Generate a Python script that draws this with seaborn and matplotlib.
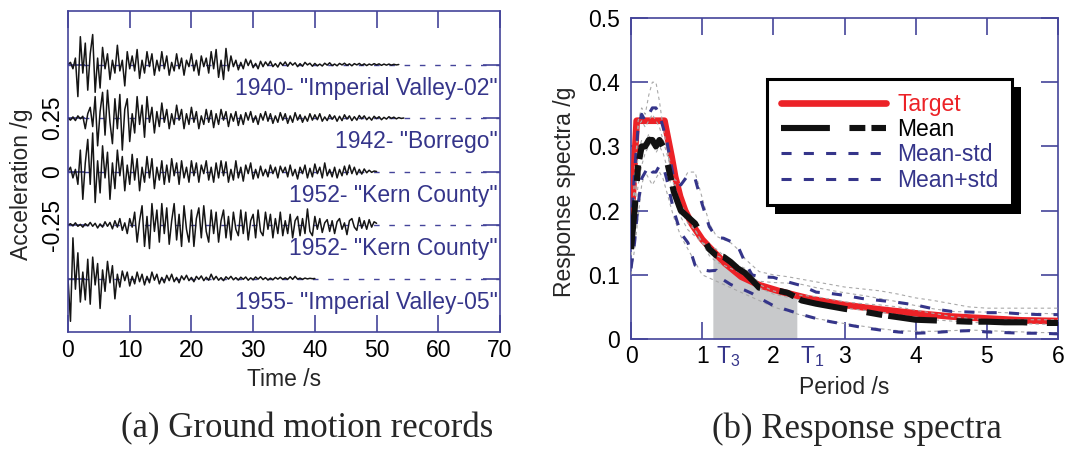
import numpy as np
import matplotlib
matplotlib.use("Agg")
import matplotlib.pyplot as plt
import seaborn as sns
from matplotlib import patheffects
from matplotlib.transforms import blended_transform_factory

# ---------------- data: ground motion records (g), sampled every dt seconds ----------------
dt = 0.4
record_names = ['1940- "Imperial Valley-02"', '1942- "Borrego"', '1952- "Kern County"',
                '1952- "Kern County"', '1955- "Imperial Valley-05"']
record_offsets = [0.5, 0.25, 0.0, -0.25, -0.5]

rec_iv02 = [0.0, 0.01, -0.02, 0.03, -0.15, 0.13, -0.04, 0.1, -0.12, 0.05,
            0.14, -0.13, 0.03, -0.11, 0.08, -0.02, 0.05, -0.07, 0.02, -0.04,
            0.09, -0.03, 0.02, -0.1, 0.06, -0.02, 0.04, -0.03, 0.07, -0.065,
            0.02, -0.04, 0.06, -0.01, 0.05, -0.05, 0.02, -0.03, 0.06, -0.02,
            0.04, -0.05, 0.01, -0.03, 0.05, -0.02, 0.03, -0.05, 0.02, -0.01,
            0.05, -0.03, 0.02, -0.05, 0.04, -0.01, 0.03, -0.04, 0.06, -0.02,
            0.07, -0.06, 0.02, -0.07, 0.075, -0.03, 0.04, -0.01, 0.02, -0.025,
            0.01, -0.02, 0.025, -0.005, 0.02, -0.015, 0.005, -0.02, 0.015, -0.01,
            0.012, -0.005, 0.015, -0.01, 0.004, -0.012, 0.01, -0.004, 0.012, -0.008,
            0.01, -0.003, 0.008, -0.01, 0.004, -0.008, 0.01, -0.002, 0.006, -0.008,
            0.005, -0.006, 0.002, -0.007, 0.006, -0.003, 0.008, -0.005, 0.002, -0.006,
            0.005, -0.002, 0.006, -0.004, 0.003, -0.006, 0.004, -0.002, 0.005, -0.004,
            0.003, -0.005, 0.002, -0.003, 0.004, -0.002, 0.003, -0.004, 0.002, -0.003,
            0.002, -0.003, 0.001, -0.002, 0.0]
rec_borrego = [0.0, -0.01, 0.005, -0.012, 0.01, -0.004, 0.008, -0.05, 0.02, 0.05,
               -0.04, 0.1, -0.13, 0.03, 0.12, -0.08, 0.13, -0.02, -0.12, 0.09,
               -0.05, 0.11, -0.15, 0.04, 0.09, -0.11, 0.02, -0.07, 0.1, -0.03,
               0.06, -0.09, 0.1, -0.02, 0.05, -0.07, 0.03, -0.04, 0.07, -0.02,
               0.04, -0.05, 0.02, -0.03, 0.06, -0.01, 0.04, -0.05, 0.02, -0.03,
               0.05, -0.02, 0.03, -0.05, 0.01, -0.03, 0.04, -0.02, 0.035, -0.045,
               0.02, -0.03, 0.04, -0.01, 0.03, -0.04, 0.02, -0.015, 0.03, -0.035,
               0.015, -0.03, 0.025, -0.01, 0.03, -0.02, 0.01, -0.03, 0.02, -0.01,
               0.03, -0.015, 0.02, -0.025, 0.01, -0.02, 0.025, -0.01, 0.02, -0.025,
               0.01, -0.02, 0.025, -0.01, 0.015, -0.02, 0.008, -0.015, 0.02, -0.01,
               0.015, -0.008, 0.02, -0.015, 0.005, -0.012, 0.015, -0.006, 0.01, -0.015,
               0.008, -0.012, 0.015, -0.005, 0.01, -0.012, 0.006, -0.01, 0.012, -0.004,
               0.01, -0.008, 0.004, -0.01, 0.008, -0.003, 0.006, -0.008, 0.003, -0.005,
               0.006, -0.002, 0.004, -0.004, 0.002, -0.002, 0.0]
rec_kern1 = [0.0, 0.02, -0.03, 0.01, -0.06, 0.1, -0.13, 0.04, 0.15, -0.06,
             0.18, -0.145, 0.05, -0.1, 0.12, -0.03, 0.09, -0.13, 0.04, -0.08,
             0.1, -0.02, 0.07, -0.09, 0.03, -0.06, 0.08, -0.04, 0.06, -0.09,
             0.02, -0.05, 0.07, -0.03, 0.06, -0.08, 0.02, -0.04, 0.05, -0.06,
             0.03, -0.05, 0.06, -0.02, 0.04, -0.06, 0.05, -0.03, 0.02, -0.05,
             0.05, -0.02, 0.04, -0.05, 0.03, -0.01, 0.05, -0.04, 0.02, -0.05,
             0.04, -0.03, 0.05, -0.02, 0.045, -0.05, 0.01, -0.04, 0.05, -0.03,
             0.02, -0.045, 0.03, -0.01, 0.04, -0.035, 0.01, -0.03, 0.025, -0.02,
             0.01, -0.025, 0.03, -0.01, 0.02, -0.03, 0.025, -0.005, 0.02, -0.025,
             0.03, -0.02, 0.01, -0.035, 0.02, -0.01, 0.03, -0.03, 0.015, -0.025,
             0.035, -0.01, 0.02, -0.03, 0.04, -0.02, 0.01, -0.025, 0.02, -0.03,
             0.01, -0.02, 0.025, -0.015, 0.03, -0.01, 0.02, -0.015, 0.01, -0.012,
             0.012, -0.006, 0.006, -0.004, 0.002, 0.0]
rec_kern2 = [0.0, 0.006, -0.004, 0.01, -0.006, 0.003, -0.01, 0.006, -0.004, 0.012,
             -0.006, 0.008, -0.014, 0.005, -0.01, 0.015, -0.006, 0.012, -0.018, 0.02,
             -0.01, 0.03, -0.025, 0.01, -0.04, 0.03, -0.01, 0.06, -0.08, 0.02,
             0.09, -0.1, 0.04, -0.11, 0.1, -0.03, 0.07, -0.08, 0.1, -0.04,
             0.08, -0.09, 0.02, 0.1, -0.07, 0.05, -0.1, 0.09, -0.02, -0.08,
             0.07, -0.1, 0.03, 0.08, -0.06, 0.09, -0.03, -0.08, 0.07, -0.04,
             0.06, -0.08, 0.02, 0.07, -0.06, 0.04, -0.07, 0.06, -0.02, -0.05,
             0.07, -0.04, 0.06, -0.07, 0.02, 0.05, -0.06, 0.07, -0.03, -0.05,
             0.06, -0.02, 0.05, -0.06, 0.03, -0.04, 0.06, -0.05, 0.02, -0.04,
             0.05, -0.06, 0.02, 0.04, -0.05, 0.03, -0.04, 0.075, -0.03, -0.05,
             0.04, -0.02, 0.03, -0.035, 0.01, 0.025, -0.03, 0.02, -0.04, 0.015,
             0.03, -0.02, 0.01, -0.045, 0.02, 0.03, -0.01, -0.025, 0.035, -0.015,
             0.02, -0.02, 0.025, -0.01, 0.015, 0.008]
rec_iv05 = [0.0, -0.2, 0.19, -0.05, 0.12, -0.11, 0.03, -0.1, 0.09, -0.12,
            0.1, -0.03, 0.07, -0.14, 0.04, -0.06, 0.08, -0.02, 0.06, -0.095,
            0.02, -0.04, 0.035, -0.01, 0.03, -0.035, 0.01, -0.025, 0.03, -0.015,
            0.02, -0.03, 0.01, -0.02, 0.03, -0.008, 0.02, -0.025, 0.005, -0.02,
            0.015, -0.01, 0.02, -0.015, 0.005, -0.02, 0.012, -0.006, 0.015, -0.01,
            0.005, -0.015, 0.01, -0.004, 0.012, -0.01, 0.006, -0.008, 0.02, -0.006,
            0.01, -0.008, 0.004, -0.01, 0.008, -0.003, 0.01, -0.006, 0.004, -0.007,
            0.006, -0.004, 0.007, -0.008, 0.003, -0.006, 0.007, -0.003, 0.008, -0.005,
            0.004, -0.007, 0.002, -0.006, 0.005, -0.003, 0.006, -0.004, 0.003, -0.004,
            0.008, -0.004, 0.01, -0.003, 0.002, -0.004, 0.002, -0.002, 0.001, -0.001,
            0.0]
records = [rec_iv02, rec_borrego, rec_kern1, rec_kern2, rec_iv05]

time_ticks = [0, 10, 20, 30, 40, 50, 60, 70]
acc_ticks = [-0.5, -0.25, 0.0, 0.25, 0.5]
acc_ticklabels = ["", "-0.25", "0", "0.25", ""]

# ---------------- data: response spectra (g) ----------------
target_T = [0.0, 0.08, 0.47, 0.57, 0.62, 0.69, 0.76, 0.85, 1.0, 1.1, 1.32, 1.55, 1.8, 2.1,
            2.5, 3.0, 3.5, 4.0, 4.5, 5.0, 5.5, 6.0]
target_v = [0.17, 0.34, 0.34, 0.284, 0.253, 0.222, 0.20, 0.18, 0.155, 0.143, 0.118, 0.097,
            0.084, 0.074, 0.063, 0.053, 0.046, 0.040, 0.035, 0.032, 0.029, 0.028]

periods = [0.0, 0.05, 0.1, 0.15, 0.2, 0.25, 0.3, 0.35, 0.4, 0.45, 0.5, 0.6, 0.7, 0.8, 0.9,
           1.0, 1.1, 1.2, 1.3, 1.4, 1.5, 1.6, 1.7, 1.8, 2.0, 2.2, 2.4, 2.6, 2.8, 3.0,
           3.25, 3.5, 3.75, 4.0, 4.25, 4.5, 4.75, 5.0, 5.25, 5.5, 5.75, 6.0]
sa_mean = [0.14, 0.20, 0.27, 0.30, 0.30, 0.31, 0.31, 0.30, 0.31, 0.30, 0.28, 0.23, 0.20, 0.19,
           0.18, 0.16, 0.14, 0.13, 0.128, 0.12, 0.11, 0.103, 0.092, 0.08, 0.077, 0.072, 0.060,
           0.055, 0.051, 0.047, 0.043, 0.038, 0.034, 0.030, 0.029, 0.028, 0.027, 0.027, 0.026,
           0.026, 0.025, 0.025]
sa_plus = [0.17, 0.26, 0.33, 0.35, 0.34, 0.35, 0.36, 0.36, 0.35, 0.33, 0.31, 0.25, 0.24, 0.255,
           0.25, 0.21, 0.175, 0.158, 0.157, 0.152, 0.145, 0.12, 0.10, 0.097, 0.096, 0.089,
           0.083, 0.073, 0.071, 0.068, 0.063, 0.06, 0.057, 0.053, 0.047, 0.043, 0.042, 0.041,
           0.041, 0.039, 0.038, 0.038]
sa_minus = [0.11, 0.15, 0.21, 0.25, 0.26, 0.27, 0.26, 0.26, 0.27, 0.27, 0.25, 0.20, 0.165, 0.15,
            0.115, 0.108, 0.106, 0.107, 0.092, 0.085, 0.08, 0.076, 0.071, 0.064, 0.052, 0.045,
            0.038, 0.032, 0.027, 0.023, 0.018, 0.014, 0.011, 0.009, 0.010, 0.012, 0.013, 0.011,
            0.010, 0.009, 0.009, 0.008]
sa_records = [
    [0.12, 0.22, 0.34, 0.36, 0.35, 0.38, 0.40, 0.40, 0.37, 0.33, 0.30, 0.24, 0.21, 0.19, 0.17,
     0.15, 0.13, 0.12, 0.115, 0.11, 0.105, 0.10, 0.095, 0.09, 0.088, 0.087, 0.085, 0.08, 0.076,
     0.072, 0.068, 0.063, 0.058, 0.052, 0.047, 0.043, 0.042, 0.042, 0.041, 0.040, 0.040, 0.039],
    [0.14, 0.26, 0.33, 0.34, 0.33, 0.34, 0.35, 0.34, 0.33, 0.31, 0.29, 0.25, 0.24, 0.26, 0.26,
     0.22, 0.18, 0.16, 0.155, 0.15, 0.14, 0.125, 0.115, 0.105, 0.10, 0.097, 0.093, 0.089, 0.085,
     0.081, 0.078, 0.075, 0.07, 0.064, 0.06, 0.055, 0.05, 0.048, 0.048, 0.048, 0.048, 0.048],
    [0.10, 0.14, 0.19, 0.24, 0.26, 0.25, 0.24, 0.25, 0.26, 0.25, 0.23, 0.19, 0.16, 0.14, 0.12,
     0.10, 0.095, 0.09, 0.085, 0.08, 0.075, 0.07, 0.065, 0.06, 0.05, 0.043, 0.037, 0.032, 0.028,
     0.024, 0.02, 0.016, 0.013, 0.012, 0.012, 0.013, 0.014, 0.013, 0.012, 0.011, 0.010, 0.010],
    [0.15, 0.20, 0.29, 0.31, 0.30, 0.32, 0.30, 0.31, 0.30, 0.29, 0.27, 0.22, 0.19, 0.17, 0.16,
     0.15, 0.145, 0.14, 0.13, 0.12, 0.11, 0.10, 0.09, 0.08, 0.07, 0.065, 0.06, 0.056, 0.052,
     0.048, 0.045, 0.042, 0.038, 0.034, 0.03, 0.028, 0.026, 0.025, 0.024, 0.024, 0.023, 0.023],
    [0.16, 0.19, 0.24, 0.27, 0.29, 0.30, 0.31, 0.29, 0.30, 0.31, 0.30, 0.25, 0.20, 0.18, 0.17,
     0.15, 0.14, 0.13, 0.125, 0.12, 0.115, 0.11, 0.10, 0.085, 0.075, 0.07, 0.068, 0.066, 0.062,
     0.058, 0.055, 0.053, 0.05, 0.045, 0.04, 0.035, 0.032, 0.03, 0.03, 0.03, 0.03, 0.03],
]
T3, T1 = 1.15, 2.33
period_ticks = [0, 1, 2, 3, 4, 5, 6]
sa_ticks = [0, 0.1, 0.2, 0.3, 0.4, 0.5]
legend_labels = ["Target", "Mean", "Mean-std", "Mean+std"]

# ---------------- style ----------------
sns.set_theme(style="white")
plt.rcParams['font.family'] = ['Liberation Sans', 'DejaVu Sans']
plt.rcParams['mathtext.fontset'] = 'custom'
plt.rcParams['mathtext.rm'] = 'Liberation Sans'
plt.rcParams['axes.unicode_minus'] = False

BLUE = "#44449a"
DKBLUE = "#35358a"
RED = "#ec2227"
FS = 16.5

fig = plt.figure(figsize=(10.69, 4.54), dpi=100)
ax1 = fig.add_axes([68/1069, 1-332/454, 432/1069, 321/454])
ax2 = fig.add_axes([631/1069, 1-339/454, 427/1069, 321/454])

for ax in (ax1, ax2):
    for s in ax.spines.values():
        s.set_color(BLUE)
        s.set_linewidth(1.2)
    ax.tick_params(direction="in", length=12, width=1.2, color=BLUE, labelcolor="black",
                   labelsize=FS, top=True, right=True, bottom=True, left=True)

# ---------------- left panel ----------------
for vals, off, name in zip(records, record_offsets, record_names):
    t = np.arange(len(vals)) * dt
    ax1.axhline(off, color=BLUE, lw=1.0, ls=(0, (4, 7)), zorder=1)
    sns.lineplot(x=t, y=np.asarray(vals) + off, ax=ax1, color="#151515", lw=1.1,
                 estimator=None, sort=False, zorder=2)
    ax1.text(69.6, off - 0.112, name, ha="right", va="center", fontsize=FS, color=DKBLUE,
             zorder=3)

ax1.set_xlim(0, 70)
ax1.set_ylim(-0.75, 0.75)
ax1.set_xticks(time_ticks)
ax1.set_yticks(acc_ticks)
ax1.set_yticklabels(acc_ticklabels, rotation=90, va="center")
ax1.tick_params(axis="y", pad=3)
ax1.tick_params(axis="x", pad=5)
ax1.set_xlabel("Time /s", fontsize=FS)
ax1.set_ylabel("Acceleration /g", fontsize=FS)
ax1.xaxis.set_label_coords(0.5, -0.112)
ax1.yaxis.set_label_coords(-0.08, 0.46)

# ---------------- right panel ----------------
fill_x = [T3] + [p for p in target_T if T3 < p < T1] + [T1]
fill_y = np.interp(fill_x, target_T, target_v)
ax2.fill_between(fill_x, 0, fill_y, color="#c8c9cb", lw=0, zorder=1)

sns.lineplot(x=target_T, y=target_v, ax=ax2, color=RED, lw=4.8, zorder=3,
             estimator=None, sort=False)
for rec in sa_records:
    sns.lineplot(x=periods, y=rec, ax=ax2, color="#a9a9a9", lw=0.8, ls=(0, (3, 3)),
                 zorder=4, estimator=None, sort=False)
sns.lineplot(x=periods, y=sa_minus, ax=ax2, color=DKBLUE, lw=2.2, ls=(0, (3.3, 4.0)),
             zorder=5, estimator=None, sort=False)
sns.lineplot(x=periods, y=sa_plus, ax=ax2, color=DKBLUE, lw=2.2, ls=(0, (3.3, 4.0)),
             zorder=5, estimator=None, sort=False)
sns.lineplot(x=periods, y=sa_mean, ax=ax2, color="#111111", lw=4.4, ls=(0, (8, 3.2, 2.6, 1.0)),
             zorder=6, estimator=None, sort=False)

lines = ax2.get_lines()
h_target = lines[0]
h_minus = lines[1 + len(sa_records)]
h_plus = lines[2 + len(sa_records)]
h_mean = lines[3 + len(sa_records)]

ax2.set_xlim(0, 6)
ax2.set_ylim(0, 0.5)
ax2.set_xticks(period_ticks)
ax2.set_yticks(sa_ticks)
ax2.set_yticklabels(["0", "0.1", "0.2", "0.3", "0.4", "0.5"])
ax2.tick_params(axis="y", pad=8)
ax2.tick_params(axis="x", pad=4)
ax2.set_xlabel("Period /s", fontsize=FS)
ax2.set_ylabel("Response spectra /g", fontsize=FS)
ax2.xaxis.set_label_coords(0.5, -0.115)
ax2.yaxis.set_label_coords(-0.128, 0.46)

trans = blended_transform_factory(ax2.transData, ax2.transAxes)
ax2.text(T3 + 0.04, -0.015, r"T$_\mathregular{3}$", transform=trans, ha="left", va="top",
         fontsize=FS, color=DKBLUE)
ax2.text(T1 + 0.04, -0.015, r"T$_\mathregular{1}$", transform=trans, ha="left", va="top",
         fontsize=FS, color=DKBLUE)

leg = ax2.legend([h_target, h_mean, h_minus, h_plus], legend_labels, loc="upper left",
                 bbox_to_anchor=(0.318, 0.81), frameon=True, fancybox=False,
                 edgecolor="black", facecolor="white", framealpha=1, fontsize=FS,
                 handlelength=4.6, handletextpad=0.5, labelspacing=0.1, borderpad=0.6,
                 borderaxespad=0)
leg.get_frame().set_linewidth(2.2)
leg.get_frame().set_path_effects([
    patheffects.SimplePatchShadow(offset=(6, -6), shadow_rgbFace="black", alpha=1.0),
    patheffects.Normal()])
for txt, col in zip(leg.get_texts(), [RED, "black", DKBLUE, DKBLUE]):
    txt.set_color(col)
leg.set_zorder(10)

# ---------------- captions ----------------
fig.text(307/1069, 1-429/454, "(a) Ground motion records", ha="center", va="center",
         fontsize=25, family=["Liberation Serif", "DejaVu Serif"])
fig.text(857/1069, 1-429/454, "(b) Response spectra", ha="center", va="center",
         fontsize=25, family=["Liberation Serif", "DejaVu Serif"])

fig.savefig("out.png", dpi=100)
